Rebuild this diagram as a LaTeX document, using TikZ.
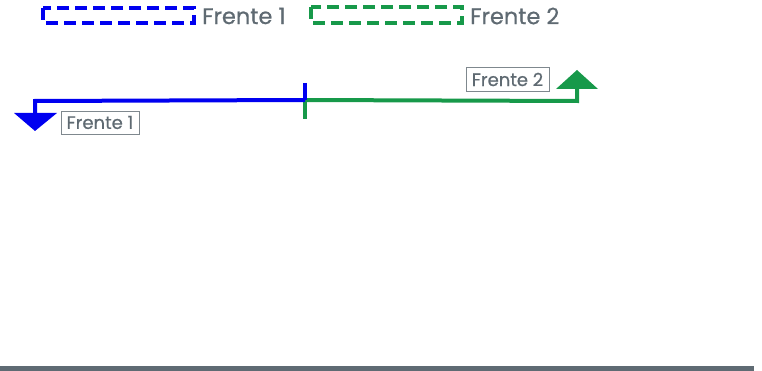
\documentclass[tikz,border=0pt]{standalone}
\usepackage{fontspec}
\setmainfont{Poppins}[FakeBold=0.6]
\definecolor{txtgray}{HTML}{5F6A72}
\definecolor{fblue}{HTML}{0000F0}
\definecolor{fgreen}{HTML}{17994A}
\definecolor{bargray}{HTML}{5F6B73}
\begin{document}
\begin{tikzpicture}[x=1pt,y=-1pt,
  legbox/.style={line width=3.6pt, dash pattern=on 12pt off 6pt},
  legtext/.style={anchor=west, text=txtgray, font=\fontsize{22.5}{25}\selectfont, inner sep=0pt},
  tagbox/.style={draw=txtgray!80, line width=0.8pt, text=txtgray, font=\fontsize{18}{20}\selectfont, inner sep=2pt, fill=white},
  fline/.style={line width=4pt}]
\useasboundingbox (0,0) rectangle (762,371);
% legend
\draw[legbox, fblue] (43,8) rectangle (194,23);
\node[legtext] (l1) at (202,16) {Frente 1};
\draw[legbox, fgreen] (311,7) rectangle (462,23);
\node[legtext] (l2) at (470,16) {Frente 2};
% center
\coordinate (c) at (305,100);
\coordinate (bl) at (35,101);
\coordinate (btip) at (35,131);
\coordinate (gr) at (577,101);
\coordinate (gtip) at (577,70);
% green
\draw[fline, fgreen] (305,100) -- (305,119);
\draw[fline, fgreen] (c) -- (gr) -- (577,88);
\fill[fgreen] (556,89) -- (gtip) -- (598,89) -- cycle;
% blue
\draw[fline, fblue] (305,83) -- (c);
\draw[fline, fblue] (c) -- (bl) -- (35,114);
\fill[fblue] (14,113) -- (btip) -- (57,113) -- cycle;
% tags
\node[tagbox, minimum width=78pt, minimum height=23pt] (t1) at (100,122.5) {Frente 1};
\node[tagbox, minimum width=83pt, minimum height=24pt] (t2) at (507.5,79.5) {Frente 2};
% bottom bar
\fill[bargray] (0,366) rectangle (754,371);
\end{tikzpicture}
\end{document}
